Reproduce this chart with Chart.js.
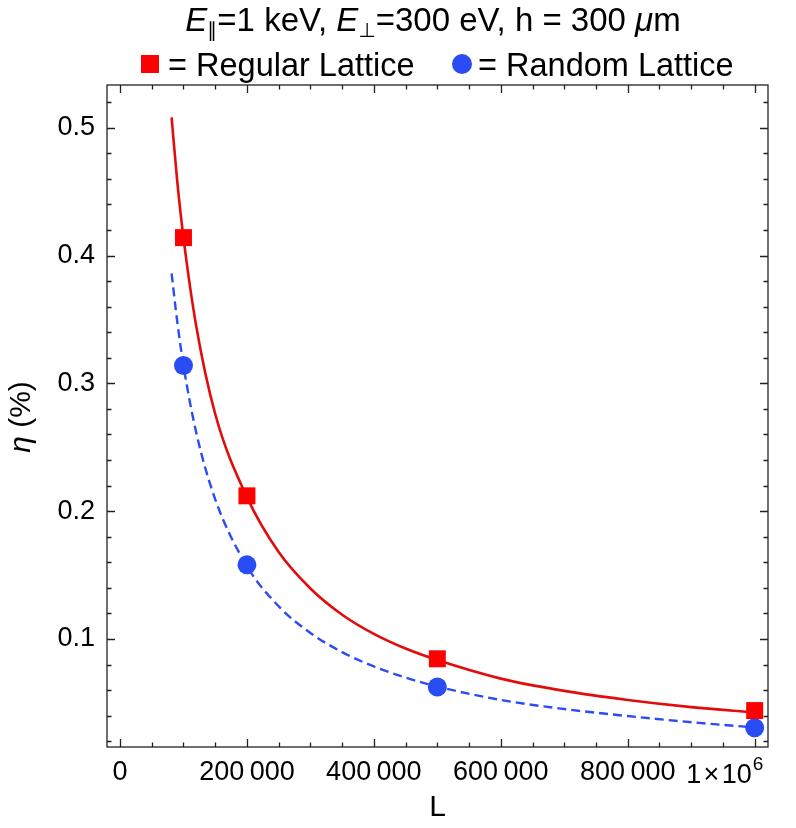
<!DOCTYPE html>
<html>
<head>
<meta charset="utf-8">
<script src="https://cdn.jsdelivr.net/npm/chart.js@4.4.1/dist/chart.umd.min.js"></script>
<style>
  html, body { margin: 0; padding: 0; background: #fff; }
  #wrap { width: 796px; height: 828px; }
</style>
</head>
<body>
<div id="wrap"><canvas id="etaChart" width="796" height="828"></canvas></div>
<script>
// simulated points
const latticeL = [100000, 200000, 500000, 1000000];
const regularEta = [0.414, 0.212, 0.0845, 0.044];
const randomEta = [0.314, 0.158, 0.0625, 0.0305];

// fit curves
const curveL = [81300, 90000, 100000, 120000, 150000, 200000, 250000, 300000, 350000, 400000, 450000, 500000, 600000, 700000, 800000, 900000, 1000000];
const regularCurve = [0.508, 0.459, 0.414, 0.345, 0.276, 0.211, 0.168, 0.1395, 0.119, 0.104, 0.0925, 0.0835, 0.069, 0.0594, 0.0523, 0.0467, 0.0425];
const randomCurve = [0.386, 0.349, 0.314, 0.2617, 0.2093, 0.157, 0.1256, 0.1047, 0.0897, 0.0785, 0.0698, 0.0628, 0.0523, 0.0452, 0.0397, 0.0349, 0.0308];

// axis ticks
const xTicks = [0, 200000, 400000, 600000, 800000, 1000000];
const xTickLabels = ["0", "200\u2009000", "400\u2009000", "600\u2009000", "800\u2009000", ""];
const yTicks = [0.1, 0.2, 0.3, 0.4, 0.5];
const yTickLabels = ["0.1", "0.2", "0.3", "0.4", "0.5"];

const FONT = "'Liberation Sans', Arial, 'DejaVu Sans', sans-serif";
const RED = "#ff0000";
const RED_LINE = "#e30c0c";
const BLUE = "#2a4cf4";

// draw a list of text runs centred on cx
function drawRuns(ctx, runs, cx, baseline) {
    let total = 0;
    runs.forEach(r => { ctx.font = r.font; r.w = ctx.measureText(r.t).width; total += r.w; });
    let x = cx - total / 2;
    runs.forEach(r => {
        ctx.font = r.font;
        ctx.fillText(r.t, x, baseline + (r.dy || 0));
        x += r.w;
    });
}

const framePlugin = {
    id: "frame",
    beforeDatasetsDraw(chart) {
        const { ctx, chartArea: a, scales } = chart;
        ctx.save();
        ctx.strokeStyle = "#222";
        ctx.lineWidth = 1.3;
        ctx.strokeRect(a.left, a.top, a.right - a.left, a.bottom - a.top);

        ctx.beginPath();
        // x ticks, every 50 000, major every 200 000
        for (let v = 0; v <= 1000000; v += 50000) {
            const px = Math.round(scales.x.getPixelForValue(v)) + 0.5;
            const len = v % 200000 === 0 ? 8 : 4.5;
            ctx.moveTo(px, a.bottom); ctx.lineTo(px, a.bottom - len);
            ctx.moveTo(px, a.top); ctx.lineTo(px, a.top + len);
        }
        // y ticks, every 0.02, major every 0.1
        for (let i = 1; i <= 26; i++) {
            const py = Math.round(scales.y.getPixelForValue(i * 0.02)) + 0.5;
            const len = i % 5 === 0 ? 8 : 4.5;
            ctx.moveTo(a.left, py); ctx.lineTo(a.left + len, py);
            ctx.moveTo(a.right, py); ctx.lineTo(a.right - len, py);
        }
        ctx.stroke();
        ctx.restore();
    },
    afterDraw(chart) {
        const { ctx, scales } = chart;
        ctx.save();
        ctx.fillStyle = "#000";
        ctx.textBaseline = "alphabetic";

        // title
        drawRuns(ctx, [
            { t: "E", font: "italic 33px " + FONT },
            { t: "\u2225", font: "20px " + FONT, dy: 6 },
            { t: "=1 keV, ", font: "33px " + FONT },
            { t: "E", font: "italic 33px " + FONT },
            { t: "\u22A5", font: "20px " + FONT, dy: 6 },
            { t: "=300 eV, h = 300 ", font: "33px " + FONT },
            { t: "\u03BC", font: "italic 33px " + FONT },
            { t: "m", font: "33px " + FONT }
        ], 433, 31);

        // legend
        ctx.font = "32.5px " + FONT;
        ctx.fillStyle = RED;
        ctx.fillRect(141, 55, 18, 18);
        ctx.fillStyle = "#000";
        ctx.fillText("= Regular Lattice", 168, 76);
        ctx.fillStyle = BLUE;
        ctx.beginPath();
        ctx.arc(462, 64, 10, 0, Math.PI * 2);
        ctx.fill();
        ctx.fillStyle = "#000";
        ctx.fillText("= Random Lattice", 478, 76);

        // y axis title
        ctx.save();
        ctx.translate(30, 417);
        ctx.rotate(-Math.PI / 2);
        drawRuns(ctx, [
            { t: "\u03B7", font: "italic 30px " + FONT },
            { t: " (%)", font: "30px " + FONT }
        ], 0, 0);
        ctx.restore();

        // 1 x 10^6 label
        const px = scales.x.getPixelForValue(1000000);
        ctx.font = "27px " + FONT;
        const base = "1\u200A\u00D7\u200A10";
        const w = ctx.measureText(base).width;
        ctx.fillText(base, px - 3 - w, 783);
        ctx.font = "19px " + FONT;
        ctx.fillText("6", px - 2, 770);
        ctx.restore();
    }
};

new Chart(document.getElementById("etaChart").getContext("2d"), {
    type: "scatter",
    data: {
        datasets: [
            {
                label: "Regular Lattice",
                data: latticeL.map((l, i) => ({ x: l, y: regularEta[i] })),
                pointStyle: "rect",
                pointRadius: 12,
                backgroundColor: RED,
                borderWidth: 0,
                order: 0
            },
            {
                label: "Random Lattice",
                data: latticeL.map((l, i) => ({ x: l, y: randomEta[i] })),
                pointStyle: "circle",
                pointRadius: 9.5,
                backgroundColor: BLUE,
                borderWidth: 0,
                order: 0
            },
            {
                label: "Regular fit",
                data: curveL.map((l, i) => ({ x: l, y: regularCurve[i] })),
                showLine: true,
                pointRadius: 0,
                borderColor: RED_LINE,
                borderWidth: 2.6,
                cubicInterpolationMode: "monotone",
                order: 1
            },
            {
                label: "Random fit",
                data: curveL.map((l, i) => ({ x: l, y: randomCurve[i] })),
                showLine: true,
                pointRadius: 0,
                borderColor: BLUE,
                borderWidth: 2.4,
                borderDash: [9, 5],
                cubicInterpolationMode: "monotone",
                order: 1
            }
        ]
    },
    options: {
        responsive: false,
        animation: false,
        layout: { padding: { top: 85, right: 28, left: 0, bottom: 0 } },
        plugins: {
            legend: { display: false },
            title: { display: false },
            tooltip: { enabled: false }
        },
        scales: {
            x: {
                type: "linear",
                min: -20500,
                max: 1021000,
                afterBuildTicks: s => { s.ticks = xTicks.map(v => ({ value: v })); },
                afterFit: s => { s.height = 81; },
                grid: { display: false, drawTicks: false },
                border: { display: false },
                ticks: {
                    autoSkip: false,
                    maxRotation: 0,
                    padding: 9,
                    color: "#000",
                    font: { family: FONT, size: 27 },
                    callback: v => xTickLabels[xTicks.indexOf(v)]
                },
                title: {
                    display: true,
                    text: "L",
                    color: "#000",
                    font: { family: FONT, size: 30 },
                    padding: { top: 0, bottom: 2 }
                }
            },
            y: {
                min: 0.0155,
                max: 0.5334,
                afterBuildTicks: s => { s.ticks = yTicks.map(v => ({ value: v })); },
                afterFit: s => { s.width = 107; },
                grid: { display: false, drawTicks: false },
                border: { display: false },
                ticks: {
                    padding: 12,
                    color: "#000",
                    font: { family: FONT, size: 27 },
                    callback: v => yTickLabels[yTicks.indexOf(v)]
                }
            }
        }
    },
    plugins: [framePlugin]
});
</script>
</body>
</html>
